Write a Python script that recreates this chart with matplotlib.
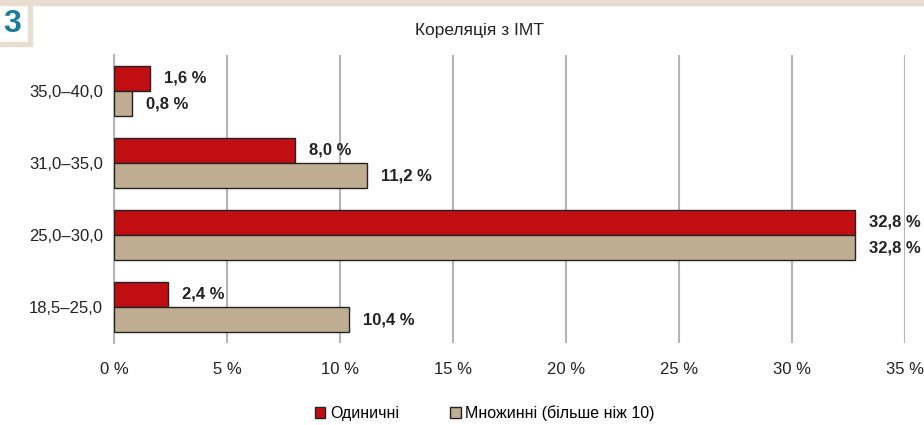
import matplotlib.pyplot as plt
import matplotlib.patches as mpatches
import numpy as np

plt.rcParams['font.family'] = ['Liberation Sans', 'DejaVu Sans']

# дані
categories = ['35,0–40,0', '31,0–35,0', '25,0–30,0', '18,5–25,0']
single = [1.6, 8.0, 32.8, 2.4]
multiple = [0.8, 11.2, 32.8, 10.4]
series_names = ['Одиничні', 'Множинні (більше ніж 10)']
ticks = [0, 5, 10, 15, 20, 25, 30, 35]

red = '#c20e12'
beige = '#bfae92'
band = '#e7ddd0'

fig = plt.figure(figsize=(9.24, 4.25), dpi=100)
W, H = 924, 425
ax = fig.add_axes([114 / W, 1 - 343 / H, (905 - 114) / W, (343 - 55) / H])

y = np.arange(len(categories))
h = 0.35
ax.barh(y - h / 2, single, height=h, color=red, edgecolor='#222222', linewidth=1, zorder=3)
ax.barh(y + h / 2, multiple, height=h, color=beige, edgecolor='#222222', linewidth=1, zorder=3)

for i in range(len(categories)):
    ax.annotate(f'{single[i]:.1f} %'.replace('.', ','), (single[i], y[i] - h / 2),
                xytext=(10, 0), textcoords='offset points', va='center', ha='left',
                fontsize=12, fontweight='bold', color='#222222', annotation_clip=False)
    ax.annotate(f'{multiple[i]:.1f} %'.replace('.', ','), (multiple[i], y[i] + h / 2),
                xytext=(10, 0), textcoords='offset points', va='center', ha='left',
                fontsize=12, fontweight='bold', color='#222222', annotation_clip=False)

ax.set_xlim(0, 35)
ax.set_ylim(len(categories) - 0.5, -0.5)
ax.set_yticks(y)
ax.set_yticklabels(categories, fontsize=12, color='#222222')
ax.set_xticks(ticks)
ax.set_xticklabels([f'{t} %' for t in ticks], fontsize=12, color='#222222')
ax.tick_params(axis='x', length=0, pad=14)
ax.tick_params(axis='y', length=0, pad=8)
ax.xaxis.grid(True, color='#b5b5b5', linewidth=1.5, zorder=0)
for s in ['top', 'right', 'bottom']:
    ax.spines[s].set_visible(False)
ax.spines['left'].set_color('#b5b5b5')
ax.spines['left'].set_linewidth(1.5)

# заголовок і номер
fig.text(479 / W, 1 - 30 / H, 'Кореляція з ІМТ', ha='center', va='center', fontsize=12.5, color='#222222')
fig.patches.append(mpatches.Rectangle((0, 1 - 5 / H), 1, 5 / H, transform=fig.transFigure,
                                      color=band, zorder=0))
fig.patches.append(mpatches.Rectangle((28 / W, 1 - 46 / H), 4 / W, 41 / H, transform=fig.transFigure,
                                      color=band, zorder=0))
fig.patches.append(mpatches.Rectangle((0, 1 - 46 / H), 32 / W, 4 / H, transform=fig.transFigure,
                                      color=band, zorder=0))
fig.text(12 / W, 1 - 24 / H, '3', ha='center', va='center', fontsize=23, fontweight='bold', color='#1a7c97')

handles = [mpatches.Patch(facecolor=red, edgecolor='#222222'),
           mpatches.Patch(facecolor=beige, edgecolor='#222222')]
fig.legend(handles, series_names, loc='center', bbox_to_anchor=(485 / W, 1 - 413 / H), ncol=2,
           frameon=False, fontsize=11.5, handlelength=0.65, handleheight=0.65, handletextpad=0.3,
           columnspacing=3.2)

fig.savefig('out.png', dpi=100)
